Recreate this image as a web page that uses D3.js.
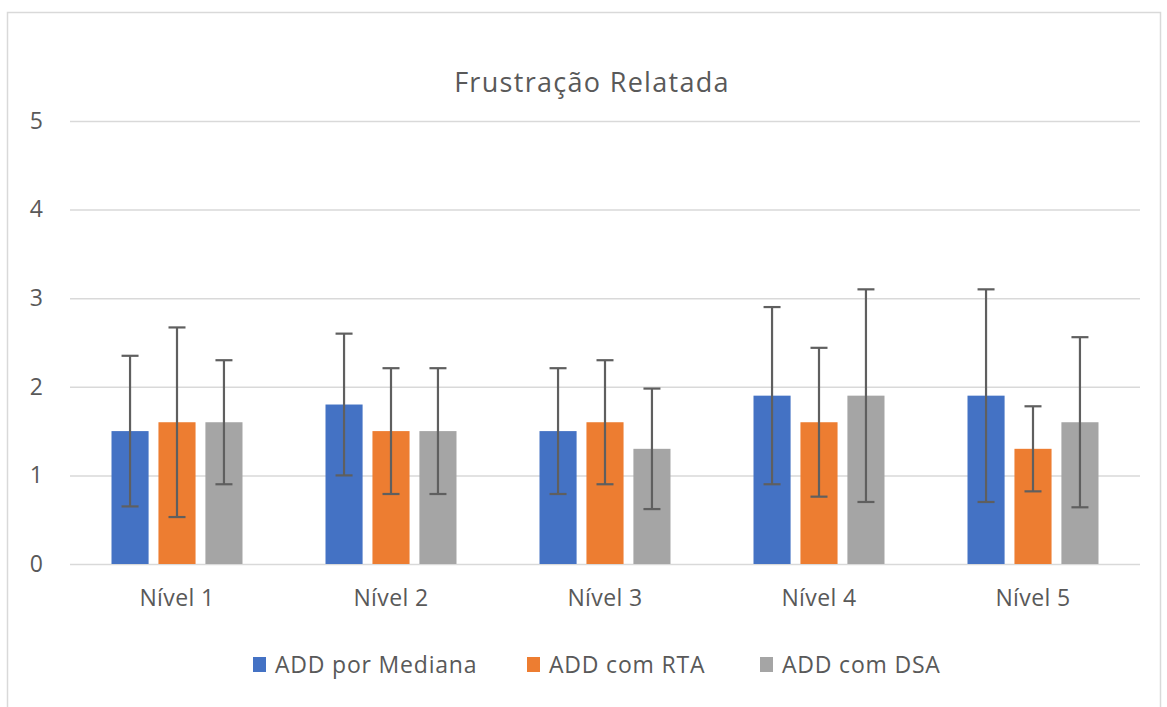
<!DOCTYPE html>
<html>
<head>
<meta charset="utf-8">
<script src="https://cdn.jsdelivr.net/npm/d3@7"></script>
<style>
  body { margin: 0; background: #fff; }
  text { font-family: "Open Sans", "Noto Sans", sans-serif; fill: #595959; }
</style>
</head>
<body>
<div id="chart"></div>
<script>
const categories = ["Nível 1", "Nível 2", "Nível 3", "Nível 4", "Nível 5"];
const seriesNames = ["ADD por Mediana", "ADD com RTA", "ADD com DSA"];
const colors = ["#4472C4", "#ED7D31", "#A5A5A5"];
// mean values per series
const mediana = [1.5, 1.8, 1.5, 1.9, 1.9];
const rta = [1.6, 1.5, 1.6, 1.6, 1.3];
const dsa = [1.6, 1.5, 1.3, 1.9, 1.6];
// error bar half-widths per series
const errMediana = [0.85, 0.8, 0.71, 1.0, 1.2];
const errRta = [1.07, 0.71, 0.7, 0.84, 0.48];
const errDsa = [0.7, 0.71, 0.68, 1.2, 0.96];
const yTicks = [0, 1, 2, 3, 4, 5];

const width = 1167, height = 707;
const margin = { top: 121, right: 27, bottom: 143, left: 70 };

const values = [mediana, rta, dsa];
const errors = [errMediana, errRta, errDsa];
const data = categories.map((c, i) => ({
  category: c,
  bars: seriesNames.map((s, j) => ({ series: s, idx: j, value: values[j][i], err: errors[j][i] }))
}));

const svg = d3.select("#chart").append("svg")
  .attr("width", width)
  .attr("height", height);

// chart border
svg.append("rect")
  .attr("x", 7.5).attr("y", 12.5)
  .attr("width", 1153).attr("height", 720)
  .attr("fill", "none")
  .attr("stroke", "#d9d9d9")
  .attr("stroke-width", 1.5);

const x0 = d3.scaleBand()
  .domain(categories)
  .range([margin.left, width - margin.right]);

const groupWidth = 131;
const x1 = d3.scaleBand()
  .domain(seriesNames)
  .range([0, groupWidth])
  .paddingInner(0.21);

const y = d3.scaleLinear()
  .domain([0, 5])
  .range([height - margin.bottom, margin.top]);

// gridlines + y labels
const yAxis = d3.axisLeft(y)
  .tickValues(yTicks)
  .tickFormat(d3.format("d"))
  .tickSize(-(width - margin.left - margin.right))
  .tickPadding(27);

const gy = svg.append("g")
  .attr("class", "axis y")
  .attr("transform", `translate(${margin.left},0)`)
  .call(yAxis);
gy.select(".domain").remove();
gy.selectAll(".tick line").attr("stroke", "#d9d9d9").attr("stroke-width", 1.5);
gy.selectAll(".tick text")
  .style("font-size", "23px")
  .attr("fill", "#595959");

// x labels
const xAxis = d3.axisBottom(x0).tickSize(0).tickPadding(26);
const gx = svg.append("g")
  .attr("class", "axis x")
  .attr("transform", `translate(0,${y(0)})`)
  .call(xAxis);
gx.select(".domain").remove();
gx.selectAll(".tick text")
  .style("font-size", "23px")
  .style("letter-spacing", "0.4px")
  .attr("fill", "#595959");

// bars
const groups = svg.append("g").selectAll("g")
  .data(data)
  .join("g")
  .attr("transform", d => `translate(${x0(d.category) + (x0.bandwidth() - groupWidth) / 2},0)`);

groups.selectAll("rect")
  .data(d => d.bars)
  .join("rect")
  .attr("x", d => x1(d.series))
  .attr("y", d => y(d.value))
  .attr("width", x1.bandwidth())
  .attr("height", d => y(0) - y(d.value))
  .attr("fill", d => colors[d.idx]);

// error bars
const capHalf = 8.5;
const eb = groups.selectAll("g.err")
  .data(d => d.bars)
  .join("g")
  .attr("class", "err")
  .attr("stroke", "#5f5f5f")
  .attr("stroke-width", 2.2);

eb.append("line")
  .attr("x1", d => x1(d.series) + x1.bandwidth() / 2)
  .attr("x2", d => x1(d.series) + x1.bandwidth() / 2)
  .attr("y1", d => y(d.value + d.err))
  .attr("y2", d => y(d.value - d.err));
eb.append("line")
  .attr("x1", d => x1(d.series) + x1.bandwidth() / 2 - capHalf)
  .attr("x2", d => x1(d.series) + x1.bandwidth() / 2 + capHalf)
  .attr("y1", d => y(d.value + d.err))
  .attr("y2", d => y(d.value + d.err));
eb.append("line")
  .attr("x1", d => x1(d.series) + x1.bandwidth() / 2 - capHalf)
  .attr("x2", d => x1(d.series) + x1.bandwidth() / 2 + capHalf)
  .attr("y1", d => y(d.value - d.err))
  .attr("y2", d => y(d.value - d.err));

// title
svg.append("text")
  .attr("x", 592)
  .attr("y", 92)
  .attr("text-anchor", "middle")
  .style("font-size", "27px")
  .style("letter-spacing", "1.3px")
  .text("Frustração Relatada");

// legend
const legendX = [253, 527, 760];
const legend = svg.append("g").selectAll("g")
  .data(seriesNames)
  .join("g")
  .attr("transform", (d, i) => `translate(${legendX[i]},657)`);
legend.append("rect")
  .attr("width", 13).attr("height", 15)
  .attr("fill", (d, i) => colors[i]);
legend.append("text")
  .attr("x", 22)
  .attr("y", 16)
  .style("font-size", "23px")
  .style("letter-spacing", "0.8px")
  .text(d => d);
</script>
</body>
</html>
